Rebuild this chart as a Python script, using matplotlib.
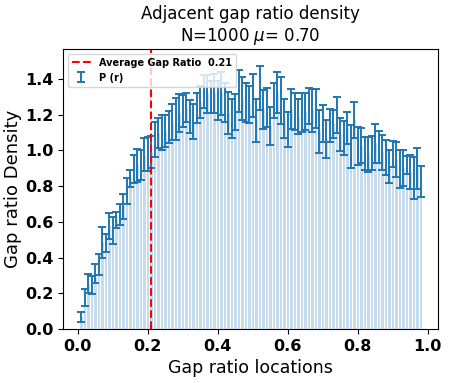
import matplotlib
matplotlib.use("Agg")
import matplotlib.pyplot as plt
import numpy as np

# gap ratio bin locations and estimated density with error
locations = [0.01 * k for k in range(1, 99)]
density = [
    0.065, 0.177, 0.254, 0.245, 0.309, 0.36, 0.485, 0.48, 0.575, 0.55,
    0.612, 0.64, 0.687, 0.773, 0.843, 0.895, 0.917, 0.917, 0.977, 0.98,
    0.99, 1.064, 1.096, 1.10, 1.11, 1.13, 1.16, 1.176, 1.21, 1.22,
    1.24, 1.19, 1.16, 1.235, 1.27, 1.33, 1.315, 1.30, 1.32, 1.28,
    1.32, 1.27, 1.21, 1.18, 1.217, 1.335, 1.29, 1.27, 1.256, 1.31,
    1.17, 1.35, 1.23, 1.24, 1.136, 1.28, 1.325, 1.28, 1.18, 1.12,
    1.23, 1.22, 1.19, 1.213, 1.217, 1.25, 1.226, 1.233, 1.108, 1.15,
    1.064, 1.14, 1.148, 1.198, 1.09, 1.07, 1.128, 1.02, 1.17, 1.026,
    1.027, 0.984, 0.978, 0.985, 1.04, 1.02, 0.99, 0.96, 0.91, 0.98,
    0.95, 0.896, 0.90, 0.92, 0.88, 0.846, 0.90, 0.826,
]
density_err = [
    0.028, 0.046, 0.054, 0.05, 0.053, 0.06, 0.085, 0.05, 0.073, 0.075,
    0.045, 0.06, 0.07, 0.072, 0.047, 0.08, 0.093, 0.084, 0.09, 0.095,
    0.09, 0.098, 0.084, 0.098, 0.089, 0.09, 0.10, 0.12, 0.107, 0.09,
    0.08, 0.09, 0.098, 0.084, 0.09, 0.09, 0.107, 0.09, 0.11, 0.11,
    0.12, 0.11, 0.12, 0.11, 0.10, 0.118, 0.12, 0.11, 0.104, 0.12,
    0.12, 0.125, 0.11, 0.107, 0.105, 0.10, 0.117, 0.13, 0.11, 0.098,
    0.112, 0.104, 0.10, 0.107, 0.103, 0.10, 0.12, 0.11, 0.12, 0.105,
    0.107, 0.09, 0.08, 0.10, 0.093, 0.095, 0.09, 0.12, 0.10, 0.107,
    0.096, 0.093, 0.10, 0.095, 0.108, 0.09, 0.098, 0.098, 0.093, 0.073,
    0.10, 0.107, 0.10, 0.05, 0.096, 0.12, 0.115, 0.086,
]
avg_gap_ratio = 0.21
n_size = 1000
mu = 0.70

fig = plt.figure(figsize=(4.49, 3.83), dpi=100)
ax = fig.add_axes([0.140, 0.141, 0.8355, 0.731])

ax.bar(locations, density, width=0.007, color='#1f77b4', alpha=0.25)
ax.errorbar(locations, density, yerr=density_err, fmt='none', ecolor='#1f77b4',
            elinewidth=1.4, capsize=3, capthick=1.4, label='P (r)')
ax.axvline(avg_gap_ratio, color='red', linestyle='--', linewidth=1.5,
           label=f'Average Gap Ratio  {avg_gap_ratio:.2f}')

ax.set_xlim(-0.043, 1.029)
ax.set_ylim(0, 1.568)
ax.set_xticks(np.arange(0, 1.01, 0.2))
ax.set_yticks(np.arange(0, 1.41, 0.2))
for lbl in ax.get_xticklabels() + ax.get_yticklabels():
    lbl.set_fontweight('bold')
    lbl.set_fontsize(11.5)

ax.set_xlabel('Gap ratio locations', fontsize=12.5)
ax.set_ylabel('Gap ratio Density', fontsize=13, labelpad=2)
ax.set_title(f'Adjacent gap ratio density\nN={n_size} $\\mu$= {mu:.2f}', fontsize=12)
ax.legend(loc='upper left', prop={'weight': 'bold', 'size': 7})

plt.savefig('out.png', dpi=100)
plt.close()
